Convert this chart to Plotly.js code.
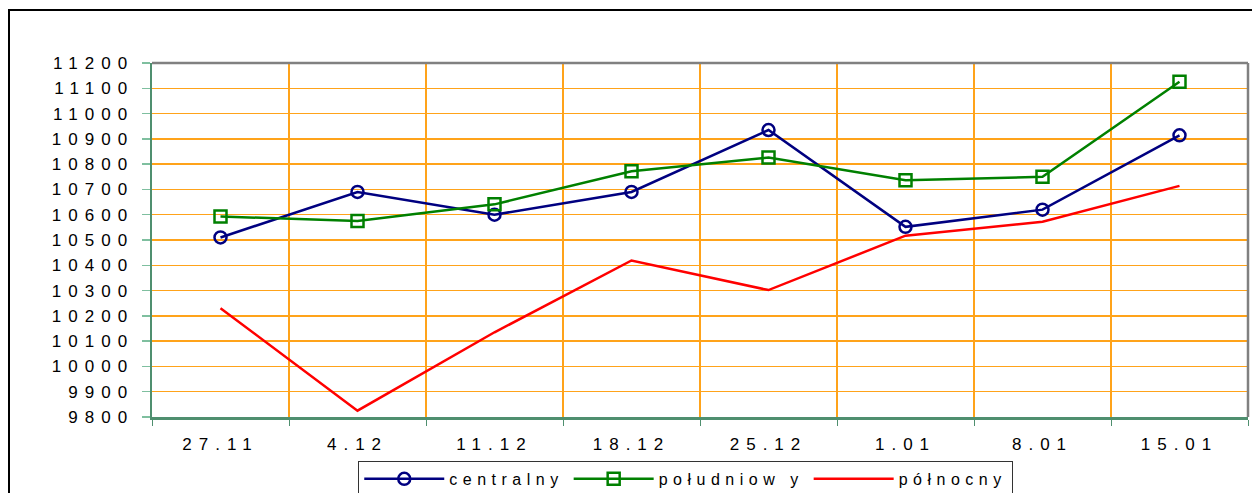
<!DOCTYPE html>
<html>
<head>
<meta charset="utf-8">
<script src="https://cdn.plot.ly/plotly-3.0.1.min.js"></script>
<style>
  html, body { margin: 0; padding: 0; background: #ffffff; }
  #frame { position: absolute; left: 8px; top: 9px; width: 2000px; height: 2000px;
           border-left: 2px solid #000; border-top: 2px solid #000; pointer-events: none; z-index: 5; }
  #chart { position: absolute; left: 0; top: 0; width: 1252px; height: 493px; }
  .xtick text, .ytick text { letter-spacing: 7px; }
  .legendtext { letter-spacing: 5.5px; }
</style>
</head>
<body>
<div id="chart"></div>
<div id="frame"></div>
<script>
const categories = ["27.11", "4.12", "11.12", "18.12", "25.12", "1.01", "8.01", "15.01"];
const seriesNames = ["centralny", "południow y", "północny"];
const centralny = [10510, 10690, 10600, 10690, 10935, 10552, 10620, 10914];
const poludniowy = [10593, 10575, 10641, 10772, 10826, 10736, 10750, 11126];
const polnocny = [10230, 9825, 10135, 10419, 10302, 10517, 10572, 10714];
const yTicks = [9800, 9900, 10000, 10100, 10200, 10300, 10400, 10500, 10600, 10700, 10800, 10900, 11000, 11100, 11200];

const FONT = "Liberation Sans, Arial, sans-serif";

const traces = [
  { x: categories, y: centralny, name: seriesNames[0], type: "scatter", mode: "lines+markers",
    line: { color: "#000080", width: 2.5 },
    marker: { symbol: "circle-open", size: 12, color: "#000080", line: { width: 2.5, color: "#000080" } } },
  { x: categories, y: poludniowy, name: seriesNames[1], type: "scatter", mode: "lines+markers",
    line: { color: "#008000", width: 2.5 },
    marker: { symbol: "square-open", size: 12, color: "#008000", line: { width: 2.5, color: "#008000" } } },
  { x: categories, y: polnocny, name: seriesNames[2], type: "scatter", mode: "lines",
    line: { color: "#ff0000", width: 2.5 } }
];

const layout = {
  width: 1252, height: 493,
  margin: { l: 152, r: 4, t: 63, b: 76, pad: 0, autoexpand: false },
  paper_bgcolor: "#ffffff", plot_bgcolor: "#ffffff",
  font: { family: FONT, size: 17, color: "#000000" },
  showlegend: true,
  legend: {
    orientation: "h", x: 0.487, xanchor: "center", y: -0.124, yanchor: "top",
    bordercolor: "#333333", borderwidth: 1, bgcolor: "#ffffff",
    font: { family: FONT, size: 16, color: "#000000" },
    itemwidth: 80, traceorder: "normal"
  },
  xaxis: {
    type: "category", categoryorder: "array", categoryarray: categories,
    range: [-0.5, 7.5], tickson: "boundaries",
    showgrid: true, gridcolor: "#ffa31a", gridwidth: 1.5,
    showline: true, linecolor: "#4f8f6f", linewidth: 2.5,
    ticks: "outside", ticklen: 6, tickcolor: "#4f8f6f", tickwidth: 1,
    ticklabelstandoff: 10,
    tickfont: { family: FONT, size: 17, color: "#000000" },
    zeroline: false, fixedrange: true
  },
  yaxis: {
    range: [9800, 11200], tickmode: "array", tickvals: yTicks, ticktext: yTicks.map(String),
    showgrid: true, gridcolor: "#ffa31a", gridwidth: 1.5,
    showline: true, linecolor: "#4f8f6f", linewidth: 2.5,
    ticks: "outside", ticklen: 8, tickcolor: "#7fbf9f", tickwidth: 1.5,
    ticklabelstandoff: 4,
    tickfont: { family: FONT, size: 17, color: "#000000" },
    zeroline: false, fixedrange: true
  },
  shapes: [
    { type: "line", xref: "paper", yref: "paper", x0: 0, x1: 1, y0: 1, y1: 1,
      line: { color: "#808080", width: 2.5 } },
    { type: "line", xref: "paper", yref: "paper", x0: 1, x1: 1, y0: 0, y1: 1,
      line: { color: "#808080", width: 2.5 } }
  ]
};

Plotly.newPlot("chart", traces, layout, { staticPlot: true, displayModeBar: false });
</script>
</body>
</html>
